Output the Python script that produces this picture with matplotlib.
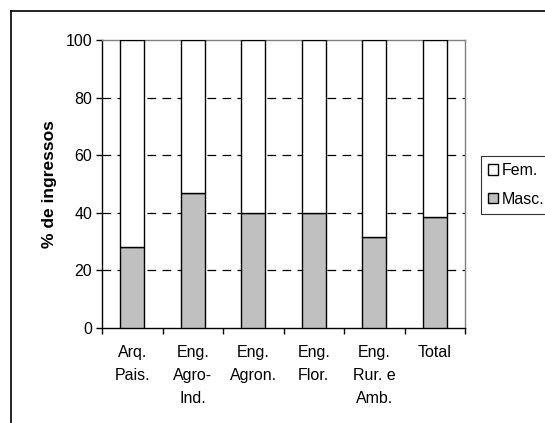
import matplotlib
matplotlib.use("Agg")
import matplotlib.pyplot as plt
from matplotlib.lines import Line2D
import numpy as np

plt.rcParams['font.family'] = ['Liberation Sans', 'DejaVu Sans']

# dados
cursos = ['Arq.\nPais.', 'Eng.\nAgro-\nInd.', 'Eng.\nAgron.', 'Eng.\nFlor.', 'Eng.\nRur. e\nAmb.', 'Total']
masc = [28, 47, 40, 40, 31.7, 38.4]
fem = [100 - m for m in masc]

fig = plt.figure(figsize=(5.45, 4.23), dpi=100)
W, H = 545, 423
ax = fig.add_axes([102 / W, 1 - 328 / H, (465 - 102) / W, (328 - 40) / H])

x = np.arange(len(cursos))
ax.bar(x, masc, width=0.4, color='#c0c0c0', edgecolor='black', linewidth=1.0, label='Masc.', zorder=3)
ax.bar(x, fem, width=0.4, bottom=masc, color='white', edgecolor='black', linewidth=1.0, label='Fem.', zorder=3)

ax.set_xlim(-0.5, len(cursos) - 0.5)
ax.set_ylim(0, 100)
ax.set_yticks([0, 20, 40, 60, 80, 100])
for v in [20, 40, 60, 80]:
    ax.axhline(v, color='black', linestyle=(0, (7, 5)), linewidth=0.9, zorder=1)

ax.set_xticks(np.arange(len(cursos) + 1) - 0.5)
ax.set_xticklabels([])
ax.set_xticks(x, minor=True)
ax.set_xticklabels(cursos, minor=True, fontsize=11.5, linespacing=1.7, va='top')
ax.tick_params(axis='x', which='minor', length=0, pad=12)
ax.tick_params(axis='x', which='major', length=4, direction='out', width=1)
ax.tick_params(axis='y', length=4, direction='out', width=1, labelsize=11.5, pad=3)

ax.spines['left'].set_color('black')
ax.spines['bottom'].set_color('black')
ax.spines['top'].set_color('#808080')
ax.spines['right'].set_color('#808080')
for s in ax.spines.values():
    s.set_linewidth(1.0)

ax.set_ylabel('% de ingressos', fontsize=12.5, fontweight='bold', labelpad=6)

h, l = ax.get_legend_handles_labels()
leg = fig.legend(h[::-1], l[::-1], loc='upper left', bbox_to_anchor=(481 / W, 1 - 156 / H),
                 fontsize=11.5, frameon=True, fancybox=False, edgecolor='black',
                 handlelength=0.6, handleheight=0.6, handletextpad=0.25, borderpad=0.45,
                 labelspacing=0.85, borderaxespad=0)
leg.get_frame().set_linewidth(0.8)

# moldura externa
fig.add_artist(Line2D([11 / W, 1], [1 - 11 / H, 1 - 11 / H], color='black', linewidth=1.2))
fig.add_artist(Line2D([11 / W, 11 / W], [0, 1 - 11 / H], color='black', linewidth=1.2))

fig.savefig('out.png', dpi=100)
